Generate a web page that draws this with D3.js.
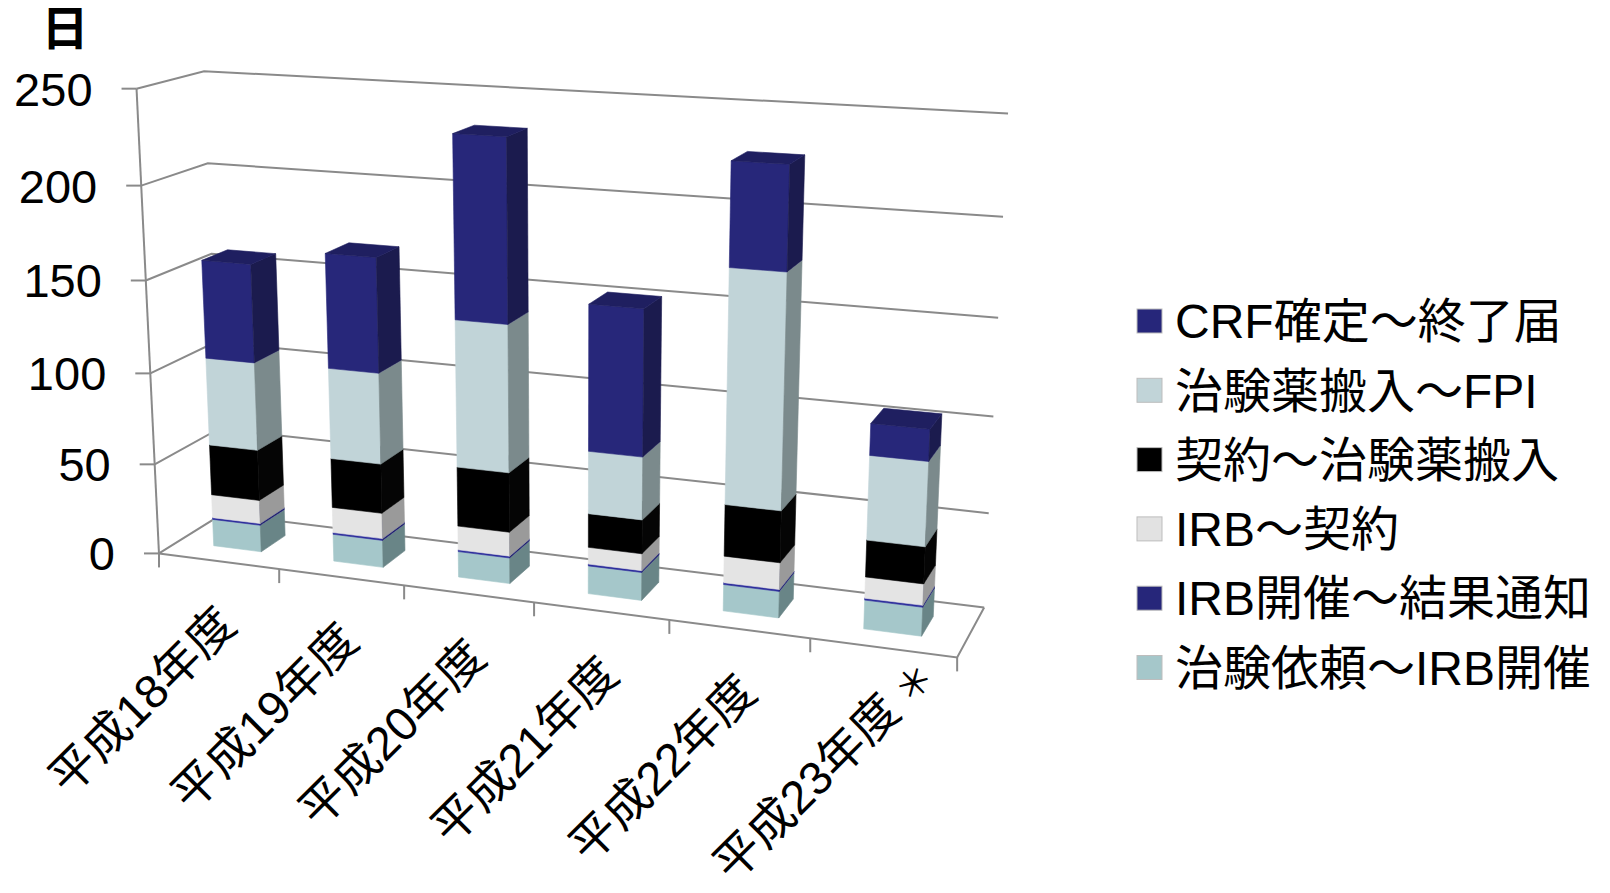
<!DOCTYPE html>
<html>
<head>
<meta charset="utf-8">
<script src="https://cdn.jsdelivr.net/npm/d3@7"></script>
<style>
  html, body { margin: 0; padding: 0; background: #ffffff; }
  svg text { font-family: "Liberation Sans", "Noto Sans CJK JP", sans-serif; fill: #000; }
</style>
</head>
<body>
<svg id="chart" width="1610" height="893"></svg>
<script>
// ---- data -------------------------------------------------------------
const categories = ["平成18年度", "平成19年度", "平成20年度", "平成21年度", "平成22年度", "平成23年度 ＊"];
const seriesNames = ["治験依頼～IRB開催", "IRB開催～結果通知", "IRB～契約", "契約～治験薬搬入", "治験薬搬入～FPI", "CRF確定～終了届"];
const irbRequest   = [15, 15, 14, 15, 14, 15];   // 治験依頼～IRB開催
const irbResult    = [1, 1, 1, 1, 1, 1];         // IRB開催～結果通知
const irbContract  = [13, 14, 13, 9, 14, 11];    // IRB～契約
const contractDrug = [28, 27, 32, 18, 27, 19];   // 契約～治験薬搬入
const drugFpi      = [48, 49, 78, 33, 120, 43];  // 治験薬搬入～FPI
const crfEnd       = [53, 61, 95, 76, 52, 16];   // CRF確定～終了届
const yTicks = [0, 50, 100, 150, 200, 250];
const yUnit = "日";

// ---- styling ----------------------------------------------------------
const faceColors = [
  { front: "#a5c7ca", side: "#698587", top: "#b5d3d5" },
  { front: "#2e2e9c", side: "#22226e", top: "#3434a8" },
  { front: "#e4e4e4", side: "#9a9a9a", top: "#eeeeee" },
  { front: "#000000", side: "#050505", top: "#111111" },
  { front: "#c1d4d8", side: "#7b8a8c", top: "#cfdfe2" },
  { front: "#27277a", side: "#1b1b4e", top: "#1f1f60" }
];
const legendColors = ["#a5c7ca", "#26267a", "#e2e2e2", "#000000", "#c1d4d8", "#26267a"];
const gridColor = "#8a8a8a";

// ---- 3D frame: world x = category units, y = scaled value, z = depth ----
const yScale = d3.scaleLinear().domain([0, 250]).range([0, 5]);
const xScale = d3.scaleBand().domain(categories).range([0, categories.length])
  .paddingInner(0.6).paddingOuter(0.3);
const zFront = 0.3, zBack = 0.7;   // bar depth inside the floor (0..1)

// screen anchors of the plot box corners and axis ticks: [x, value, z, px, py]
const frameAnchors = [
  [0, 0, 0, 159.3, 553.5], [0, 50, 0, 154.9, 464], [0, 100, 0, 150.3, 373],
  [0, 150, 0, 145.7, 281], [0, 200, 0, 140.7, 185.7], [0, 250, 0, 135.7, 89],
  [0, 250, 1, 205, 71], [0, 200, 1, 208.3, 163.3], [0, 0, 1, 221, 514],
  [1, 0, 0, 280, 569.2], [2, 0, 0, 404, 585.4], [3, 0, 0, 534, 602.3],
  [4, 0, 0, 669, 619.8], [5, 0, 0, 811, 638.3], [6, 0, 0, 957, 657],
  [6, 0, 1, 984, 608], [6, 50, 1, 989, 513], [6, 100, 1, 993, 417],
  [6, 200, 1, 1003, 217], [6, 250, 1, 1008, 113]
];

// least-squares perspective camera (3x4 projective matrix) through the anchors
function fitCamera(anchors) {
  const cx = 600, cy = 400, s = 400, N = 11;
  const M = Array.from({ length: N }, () => new Array(N).fill(0));
  const r = new Array(N).fill(0);
  const add = (row, rhs) => {
    for (let i = 0; i < N; i++) {
      r[i] += row[i] * rhs;
      for (let j = 0; j < N; j++) M[i][j] += row[i] * row[j];
    }
  };
  anchors.forEach(([X, V, Z, u, v]) => {
    const Y = yScale(V), un = (u - cx) / s, vn = (v - cy) / s;
    add([X, Y, Z, 1, 0, 0, 0, 0, -un * X, -un * Y, -un * Z], un);
    add([0, 0, 0, 0, X, Y, Z, 1, -vn * X, -vn * Y, -vn * Z], vn);
  });
  // Gaussian elimination with partial pivoting
  for (let c = 0; c < N; c++) {
    let p = c;
    for (let i = c + 1; i < N; i++) if (Math.abs(M[i][c]) > Math.abs(M[p][c])) p = i;
    [M[c], M[p]] = [M[p], M[c]]; [r[c], r[p]] = [r[p], r[c]];
    for (let i = c + 1; i < N; i++) {
      const f = M[i][c] / M[c][c];
      for (let j = c; j < N; j++) M[i][j] -= f * M[c][j];
      r[i] -= f * r[c];
    }
  }
  const p = new Array(N).fill(0);
  for (let i = N - 1; i >= 0; i--) {
    let acc = r[i];
    for (let j = i + 1; j < N; j++) acc -= M[i][j] * p[j];
    p[i] = acc / M[i][i];
  }
  return (X, V, Z) => {
    const Y = yScale(V);
    const w = p[8] * X + p[9] * Y + p[10] * Z + 1;
    return [
      ((p[0] * X + p[1] * Y + p[2] * Z + p[3]) / w) * s + cx,
      ((p[4] * X + p[5] * Y + p[6] * Z + p[7]) / w) * s + cy
    ];
  };
}
const project = fitCamera(frameAnchors);

const svg = d3.select("#chart");
const line = d3.line();
const nCat = categories.length;

// ---- walls: gridlines on left wall and back wall, floor outline ---------
const gGrid = svg.append("g").attr("fill", "none").attr("stroke", gridColor).attr("stroke-width", 2);
yTicks.forEach(v => {
  gGrid.append("path").attr("d", line([project(0, v, 0), project(0, v, 1), project(nCat, v, 1)]));
});
gGrid.append("path").attr("d", line([project(0, 0, 0), project(nCat, 0, 0), project(nCat, 0, 1)]));

// value axis line and ticks
gGrid.append("path").attr("d", line([project(0, 0, 0), project(0, yTicks[yTicks.length - 1], 0)]));
yTicks.forEach(v => {
  const [px, py] = project(0, v, 0);
  gGrid.append("path").attr("d", line([[px - 15, py], [px, py]]));
});
// category axis ticks
d3.range(nCat + 1).forEach(k => {
  const [px, py] = project(k, 0, 0);
  gGrid.append("path").attr("d", line([[px, py], [px, py + 14]]));
});

// value labels
svg.append("g").selectAll("text").data(yTicks).join("text")
  .attr("x", v => project(0, v, 0)[0] - 44)
  .attr("y", v => project(0, v, 0)[1])
  .attr("dy", "0.36em")
  .attr("text-anchor", "end")
  .attr("font-size", 47)
  .text(v => v);

svg.append("text").attr("x", 65).attr("y", 45).attr("text-anchor", "middle")
  .attr("font-size", 47).attr("font-weight", "bold").text(yUnit);

// ---- stacked 3D columns -----------------------------------------------
const seriesArrays = [irbRequest, irbResult, irbContract, contractDrug, drugFpi, crfEnd];
const rows = categories.map((c, i) => {
  const o = { category: c };
  seriesNames.forEach((s, k) => { o[s] = seriesArrays[k][i]; });
  return o;
});
const stacked = d3.stack().keys(seriesNames)(rows);

const gBars = svg.append("g");
categories.forEach((cat, i) => {
  const x0 = xScale(cat), x1 = x0 + xScale.bandwidth();
  const gb = gBars.append("g");
  stacked.forEach((layer, k) => {
    const [v0, v1] = layer[i];
    const col = faceColors[k];
    const faces = [
      { pts: [[x0, v0, zFront], [x1, v0, zFront], [x1, v1, zFront], [x0, v1, zFront]], fill: col.front },
      { pts: [[x1, v0, zFront], [x1, v0, zBack], [x1, v1, zBack], [x1, v1, zFront]], fill: col.side },
      { pts: [[x0, v1, zFront], [x1, v1, zFront], [x1, v1, zBack], [x0, v1, zBack]], fill: col.top }
    ];
    faces.forEach(f => {
      gb.append("path")
        .attr("d", line.curve(d3.curveLinearClosed)(f.pts.map(p => project(...p))))
        .attr("fill", f.fill).attr("stroke", f.fill).attr("stroke-width", 0.6)
        .attr("stroke-linejoin", "round");
    });
  });
});

// ---- category labels (rotated, reading upward to the right) ---------------
const catLabels = svg.append("g").selectAll("text").data(categories).join("text")
  .attr("transform", c => {
    const [px, py] = project(xScale(c) + xScale.bandwidth() / 2, 0, 0);
    return `translate(${px - 150},${py + 236}) rotate(-45)`;
  })
  .attr("text-anchor", "start")
  .attr("font-size", 47)
  .style("white-space", "pre");
catLabels.each(function (c) {
  const sp = c.indexOf(" ");
  const main = sp < 0 ? c : c.slice(0, sp);
  const note = sp < 0 ? "" : c.slice(sp);
  const t = d3.select(this);
  t.append("tspan").text(main);
  if (note) t.append("tspan").attr("font-size", 38).text(note);
});

// ---- legend -------------------------------------------------------------
const legendOrder = d3.range(seriesNames.length).reverse();
const gLeg = svg.append("g");
legendOrder.forEach((k, row) => {
  const cy = 321 + row * 69.3;
  gLeg.append("rect").attr("x", 1137).attr("y", cy - 12).attr("width", 25).attr("height", 24)
    .attr("fill", legendColors[k]).attr("stroke", "#bdbdbd").attr("stroke-width", 1);
  gLeg.append("text").attr("x", 1175).attr("y", cy).attr("dy", "0.36em")
    .attr("font-size", 48).text(seriesNames[k]);
});
</script>
</body>
</html>
